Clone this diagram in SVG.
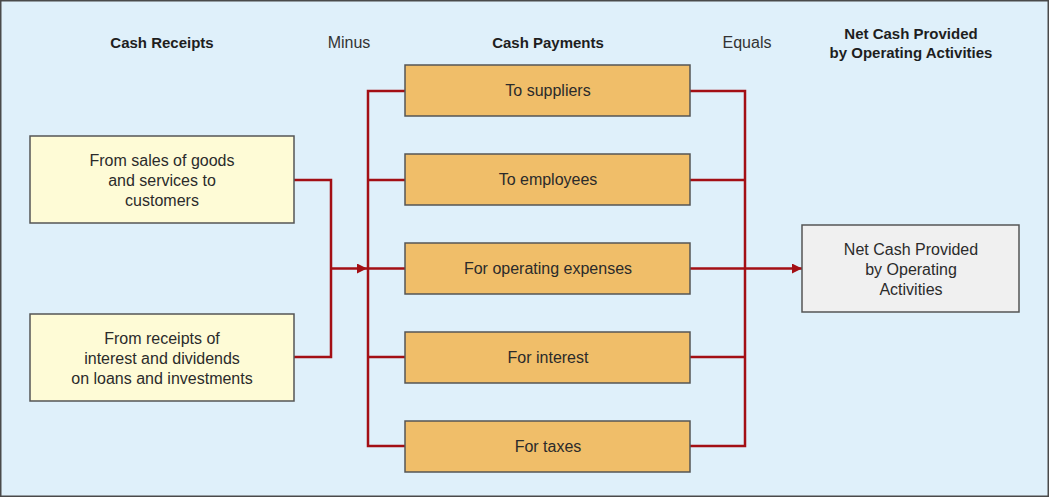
<svg xmlns="http://www.w3.org/2000/svg" width="1049" height="497" viewBox="0 0 1049 497">
<defs>
<style>
.t{font-family:"Liberation Sans","DejaVu Sans",sans-serif;font-size:16px;fill:#2b2b2b;text-anchor:middle}
.h{font-family:"Liberation Sans","DejaVu Sans",sans-serif;font-size:15px;font-weight:bold;fill:#1e1e1e;text-anchor:middle}
.lab{font-family:"Liberation Sans","DejaVu Sans",sans-serif;font-size:16px;fill:#333;text-anchor:middle}
.rec{fill:#fefbd6;stroke:#555;stroke-width:1.5}
.pay{fill:#f0be69;stroke:#555;stroke-width:1.5}
.net{fill:#f0f0f0;stroke:#555;stroke-width:1.5}
.ln{fill:none;stroke:#a30f14;stroke-width:2.5}
</style>
<marker id="arr" viewBox="0 0 10 10" refX="10" refY="5" markerWidth="10" markerHeight="10" markerUnits="userSpaceOnUse" orient="auto">
<path d="M0,0 L10,5 L0,10 z" fill="#a30f14"/>
</marker>
</defs>
<rect x="0.75" y="0.75" width="1047.5" height="495.5" fill="#dff0fa" stroke="#4a4a4a" stroke-width="1.5"/>
<g id="titles">
<text class="h" x="162" y="48">Cash Receipts</text>
<text class="lab" x="349" y="48">Minus</text>
<text class="h" x="548" y="48">Cash Payments</text>
<text class="lab" x="747" y="48">Equals</text>
<text class="h" x="911" y="39">Net Cash Provided</text>
<text class="h" x="911" y="58">by Operating Activities</text>
</g>
<g id="connectors">
<polyline class="ln" points="294,180 331,180 331,357 294,357"/>
<line class="ln" x1="331" y1="268.5" x2="367" y2="268.5" marker-end="url(#arr)"/>
<polyline class="ln" points="405,91 368,91 368,446 405,446"/>
<line class="ln" x1="368" y1="180" x2="405" y2="180"/>
<line class="ln" x1="368" y1="268.5" x2="405" y2="268.5"/>
<line class="ln" x1="368" y1="357" x2="405" y2="357"/>
<polyline class="ln" points="690,91 745,91 745,446 690,446"/>
<line class="ln" x1="690" y1="180" x2="745" y2="180"/>
<line class="ln" x1="690" y1="357" x2="745" y2="357"/>
<line class="ln" x1="690" y1="268.5" x2="802" y2="268.5" marker-end="url(#arr)"/>
</g>
<g id="receipt-sales">
<rect class="rec" x="30" y="136" width="264" height="87"/>
<text class="t" x="162" y="166">From sales of goods</text>
<text class="t" x="162" y="186">and services to</text>
<text class="t" x="162" y="206">customers</text>
</g>
<g id="receipt-interest">
<rect class="rec" x="30" y="314" width="264" height="87"/>
<text class="t" x="162" y="344">From receipts of</text>
<text class="t" x="162" y="364">interest and dividends</text>
<text class="t" x="162" y="384">on loans and investments</text>
</g>
<g id="pay-suppliers">
<rect class="pay" x="405" y="65" width="285" height="51"/>
<text class="t" x="548" y="96">To suppliers</text>
</g>
<g id="pay-employees">
<rect class="pay" x="405" y="154" width="285" height="51"/>
<text class="t" x="548" y="185">To employees</text>
</g>
<g id="pay-operating">
<rect class="pay" x="405" y="243" width="285" height="51"/>
<text class="t" x="548" y="274">For operating expenses</text>
</g>
<g id="pay-interest">
<rect class="pay" x="405" y="332" width="285" height="51"/>
<text class="t" x="548" y="363">For interest</text>
</g>
<g id="pay-taxes">
<rect class="pay" x="405" y="421" width="285" height="51"/>
<text class="t" x="548" y="452">For taxes</text>
</g>
<g id="net-cash">
<rect class="net" x="802" y="225" width="217" height="87"/>
<text class="t" x="911" y="255">Net Cash Provided</text>
<text class="t" x="911" y="275">by Operating</text>
<text class="t" x="911" y="295">Activities</text>
</g>
</svg>
